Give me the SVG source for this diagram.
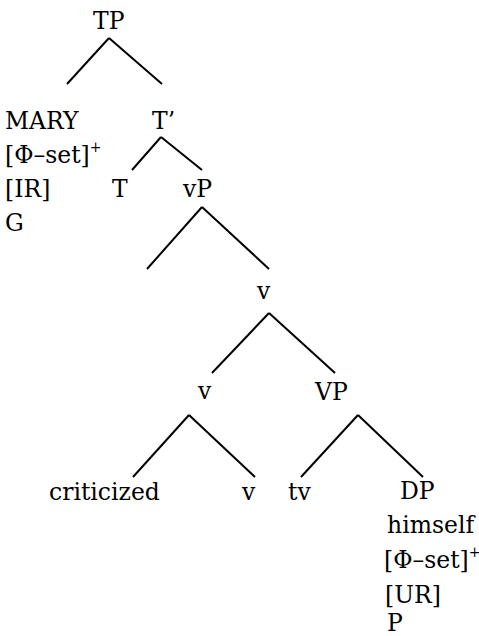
<svg xmlns="http://www.w3.org/2000/svg" width="479" height="636" viewBox="0 0 479 636">
  <style>
    text { font-family: "DejaVu Serif", serif; font-size: 23.5px; fill: #000; }
    .sup { font-size: 14px; }
    #edges line { stroke: #000; stroke-width: 2; stroke-linecap: butt; }
  </style>
  <rect width="479" height="636" fill="#fff"/>

  <!-- branches of the tree -->
  <g id="edges">
    <line x1="109" y1="38" x2="67" y2="84"/>
    <line x1="109" y1="38" x2="162" y2="84"/>
    <line x1="161" y1="137" x2="132" y2="170"/>
    <line x1="161" y1="137" x2="202" y2="170"/>
    <line x1="202" y1="207" x2="147" y2="269"/>
    <line x1="202" y1="207" x2="269" y2="269"/>
    <line x1="269" y1="313" x2="212" y2="373"/>
    <line x1="269" y1="313" x2="335" y2="373"/>
    <line x1="189" y1="415" x2="133" y2="477"/>
    <line x1="189" y1="415" x2="255" y2="477"/>
    <line x1="358" y1="415" x2="301" y2="477"/>
    <line x1="358" y1="415" x2="423" y2="477"/>
  </g>

  <g id="node-TP"><text x="93" y="29">TP</text></g>

  <g id="node-MARY">
    <text x="5" y="129">MARY</text>
    <text x="5" y="163">[Φ–set]<tspan class="sup" dy="-11">+</tspan></text>
    <text x="5" y="197">[IR]</text>
    <text x="5" y="231">G</text>
  </g>

  <g id="node-Tbar"><text x="152" y="129">T’</text></g>
  <g id="node-T"><text x="112" y="197">T</text></g>
  <g id="node-vP"><text x="183" y="197">vP</text></g>
  <g id="node-v-bar"><text x="257" y="299">v</text></g>
  <g id="node-v"><text x="198" y="399">v</text></g>
  <g id="node-VP"><text x="315" y="400">VP</text></g>
  <g id="node-criticized"><text x="49" y="500">criticized</text></g>
  <g id="node-v-head"><text x="242" y="500">v</text></g>
  <g id="node-tv"><text x="288" y="500">tv</text></g>

  <g id="node-DP">
    <text x="400" y="499">DP</text>
    <text x="387" y="533">himself</text>
    <text x="384" y="568">[Φ–set]<tspan class="sup" dy="-11">+</tspan></text>
    <text x="385" y="603">[UR]</text>
    <text x="387" y="631">P</text>
  </g>
</svg>
